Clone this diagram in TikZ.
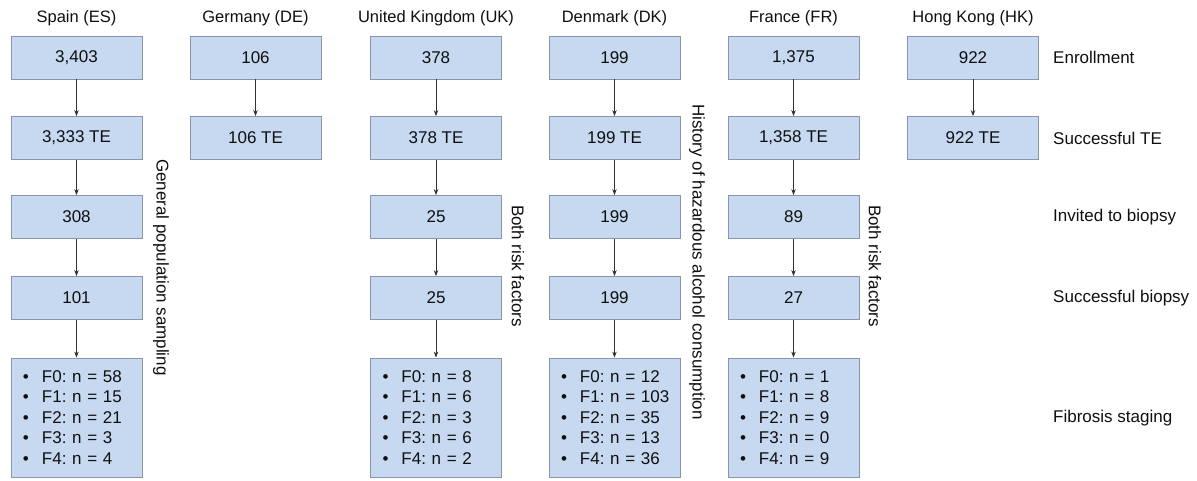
\documentclass[tikz,border=0pt]{standalone}
\usepackage{fontspec}
\setmainfont{Liberation Sans}
\usetikzlibrary{arrows.meta}
\definecolor{boxfill}{RGB}{198,217,240}
\definecolor{boxline}{RGB}{135,150,172}
\definecolor{arrowc}{RGB}{50,50,50}
\definecolor{txt}{RGB}{15,15,15}
\newcommand{\fl}[2]{\mbox{\makebox[19pt][l]{\textbullet}F#1: n = #2}}
\frenchspacing
\begin{document}
\begin{tikzpicture}[x=1pt,y=-1pt,
  every node/.style={text=txt},
  box/.style={draw=boxline, fill=boxfill, line width=0.8pt, minimum width=131pt, minimum height=43pt, inner sep=0pt, font=\fontsize{17}{20}\selectfont},
  listbox/.style={box, minimum height=119pt, align=left, text width=107pt, inner xsep=12pt, font=\fontsize{17}{20.5}\selectfont},
  hdr/.style={inner sep=0pt, font=\fontsize{16.5}{19}\selectfont},
  flow/.style={draw=arrowc, line width=0.8pt, -{Stealth[length=6pt,width=4.5pt]}},
  side/.style={rotate=-90, inner sep=0pt, font=\fontsize{17}{20}\selectfont},
  stage/.style={anchor=west, inner sep=0pt, font=\fontsize{17}{20}\selectfont}
]
\useasboundingbox (0,0) rectangle (1197,481);
% headers
\node[hdr] (hES) at (76.5,18) {Spain (ES)};
\node[hdr] (hDE) at (255.5,18) {Germany (DE)};
\node[hdr] (hUK) at (436,18) {United Kingdom (UK)};
\node[hdr] (hDK) at (614.5,18) {Denmark (DK)};
\node[hdr] (hFR) at (793.5,18) {France (FR)};
\node[hdr] (hHK) at (973,18) {Hong Kong (HK)};
% Spain
\node[box] (es1) at (76.5,57.5) {3,403};
\node[box] (es2) at (76.5,138) {3,333 TE};
\node[box] (es3) at (76.5,217) {308};
\node[box] (es4) at (76.5,298) {101};
\node[listbox] (es5) at (76.5,417.5) {\fl{0}{58}\\\fl{1}{15}\\\fl{2}{21}\\\fl{3}{3}\\\fl{4}{4}};
% Germany
\node[box] (de1) at (255.5,57.5) {106};
\node[box] (de2) at (255.5,138) {106 TE};
% UK
\node[box] (uk1) at (436,57.5) {378};
\node[box] (uk2) at (436,138) {378 TE};
\node[box] (uk3) at (436,217) {25};
\node[box] (uk4) at (436,298) {25};
\node[listbox] (uk5) at (436,417.5) {\fl{0}{8}\\\fl{1}{6}\\\fl{2}{3}\\\fl{3}{6}\\\fl{4}{2}};
% Denmark
\node[box] (dk1) at (614.5,57.5) {199};
\node[box] (dk2) at (614.5,138) {199 TE};
\node[box] (dk3) at (614.5,217) {199};
\node[box] (dk4) at (614.5,298) {199};
\node[listbox] (dk5) at (614.5,417.5) {\fl{0}{12}\\\fl{1}{103}\\\fl{2}{35}\\\fl{3}{13}\\\fl{4}{36}};
% France
\node[box] (fr1) at (793.5,57.5) {1,375};
\node[box] (fr2) at (793.5,138) {1,358 TE};
\node[box] (fr3) at (793.5,217) {89};
\node[box] (fr4) at (793.5,298) {27};
\node[listbox] (fr5) at (793.5,417.5) {\fl{0}{1}\\\fl{1}{8}\\\fl{2}{9}\\\fl{3}{0}\\\fl{4}{9}};
% Hong Kong
\node[box] (hk1) at (973,57.5) {922};
\node[box] (hk2) at (973,138) {922 TE};
% arrows
\foreach \c in {es,uk,dk,fr}{
  \draw[flow] (\c1) -- (\c2);
  \draw[flow] (\c2) -- (\c3);
  \draw[flow] (\c3) -- (\c4);
  \draw[flow] (\c4) -- (\c5);
}
\draw[flow] (de1) -- (de2);
\draw[flow] (hk1) -- (hk2);
% side labels
\node[side] (sES) at (161,267.5) {General population sampling};
\node[side] (sUK) at (518,266) {Both risk factors};
\node[side] (sDK) at (697,262) {History of hazardous alcohol consumption};
\node[side] (sFR) at (875,266) {Both risk factors};
% stage labels
\node[stage] (st1) at (1053,57.5) {Enrollment};
\node[stage] (st2) at (1053,138) {Successful TE};
\node[stage] (st3) at (1053,217) {Invited to biopsy};
\node[stage] (st4) at (1053,298) {Successful biopsy};
\node[stage] (st5) at (1053,418) {Fibrosis staging};
\end{tikzpicture}
\end{document}
